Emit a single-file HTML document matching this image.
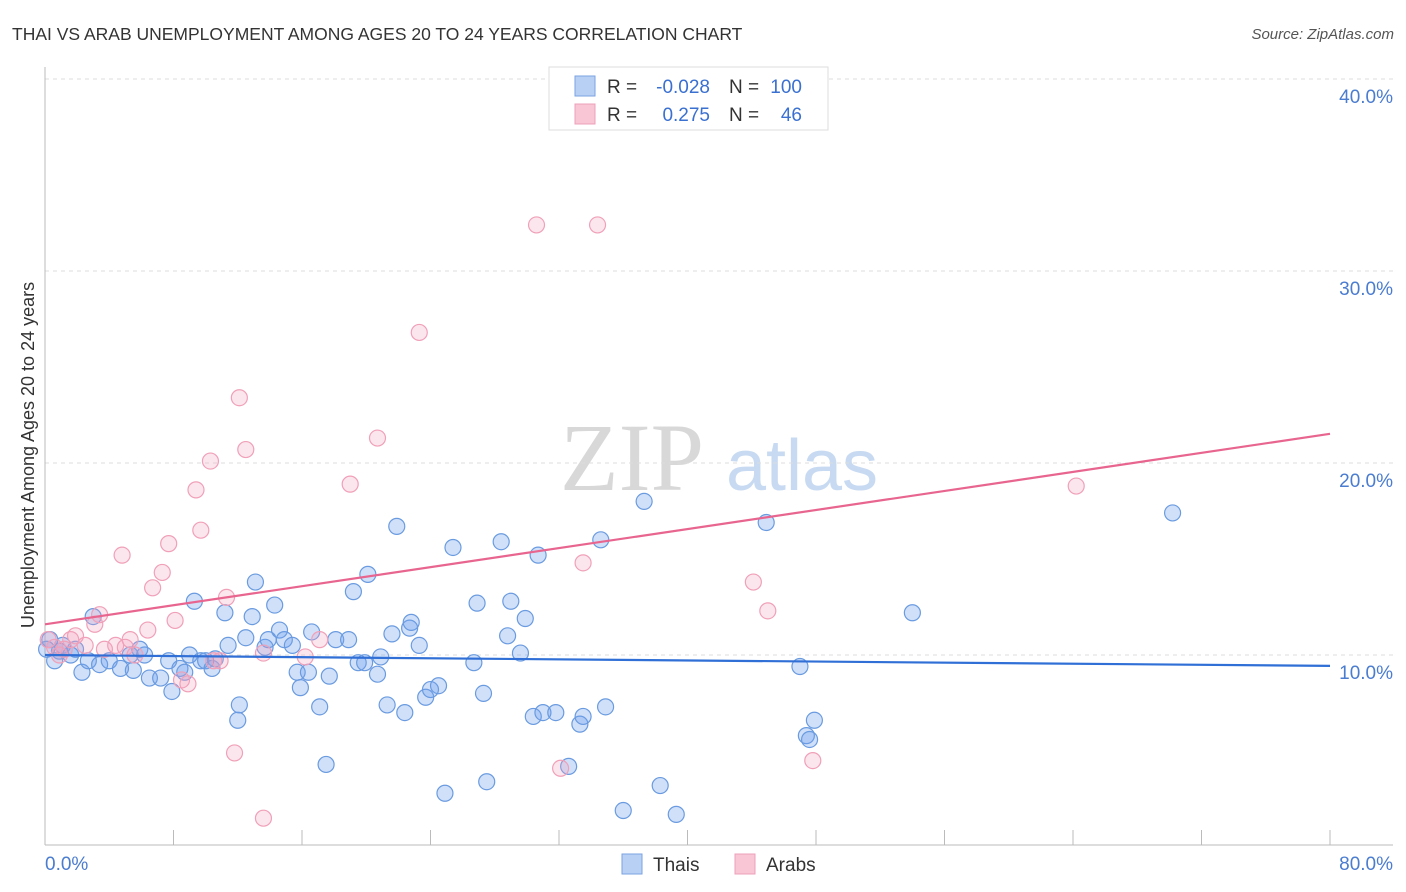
<!DOCTYPE html>
<html><head><meta charset="utf-8"><style>
body{margin:0;background:#fff;font-family:"Liberation Sans",sans-serif;}
svg{display:block}
</style></head><body>
<svg width="1406" height="892" xmlns="http://www.w3.org/2000/svg" id="chart">
<text x="12" y="40" font-size="17.5" fill="#333">THAI VS ARAB UNEMPLOYMENT AMONG AGES 20 TO 24 YEARS CORRELATION CHART</text>
<text x="1394" y="39" font-size="15" fill="#555" font-style="italic" text-anchor="end">Source: ZipAtlas.com</text>
<g>
<text x="632" y="490" font-size="96" font-family="Liberation Serif,serif" fill="#d8d8d8" text-anchor="middle">ZIP</text>
<text x="802" y="490" font-size="72" fill="#c8daf2" text-anchor="middle">atlas</text>
</g>
<g id="grid"></g>
<g id="axes"></g>
<g id="pts"></g>
<g id="lines"></g>
<text transform="translate(34,455) rotate(-90)" font-size="18" fill="#333" text-anchor="middle">Unemployment Among Ages 20 to 24 years</text>
<text x="45" y="870" font-size="19" fill="#4a7cd0">0.0%</text>
<text x="1393" y="870" font-size="19" fill="#4a7cd0" text-anchor="end">80.0%</text>
<g>
<rect x="549" y="67" width="279" height="63" fill="#fff" stroke="#ddd"/>
<rect x="575" y="76" width="20" height="20" fill="#b8d0f4" stroke="#7aa3e0"/>
<rect x="575" y="104" width="20" height="20" fill="#f9c6d6" stroke="#eda0b8"/>
<text x="607" y="93" font-size="19" fill="#333">R =</text>
<text x="710" y="93" font-size="19" fill="#3a70d0" text-anchor="end">-0.028</text>
<text x="729" y="93" font-size="19" fill="#333">N =</text>
<text x="802" y="93" font-size="19" fill="#3a70d0" text-anchor="end">100</text>
<text x="607" y="121" font-size="19" fill="#333">R =</text>
<text x="710" y="121" font-size="19" fill="#3a70d0" text-anchor="end">0.275</text>
<text x="729" y="121" font-size="19" fill="#333">N =</text>
<text x="802" y="121" font-size="19" fill="#3a70d0" text-anchor="end">46</text>
</g>
<g><rect x="622" y="854" width="20" height="20" fill="#b8d0f4" stroke="#7aa3e0"/><text x="653" y="871" font-size="19" fill="#333">Thais</text></g>
<g><rect x="735" y="854" width="20" height="20" fill="#f9c6d6" stroke="#eda0b8"/><text x="766" y="871" font-size="19" fill="#333">Arabs</text></g>
</svg>
<script>
const thaiX=[3.0,2.3,0.9,1.6,2.7,3.4,4.0,4.7,5.3,5.5,6.2,6.5,7.2,7.7,7.9,8.4,8.7,9.3,9.0,9.7,10.0,10.4,10.6,11.2,11.4,12.0,12.1,12.5,12.9,13.1,13.7,13.9,14.3,14.6,14.9,15.4,15.7,15.9,16.4,16.6,17.1,17.5,17.7,18.1,18.9,19.2,19.5,19.9,20.1,20.7,20.9,21.3,21.6,21.9,22.4,22.7,22.8,23.3,23.7,24.0,24.5,24.9,25.4,26.7,26.9,27.3,27.5,28.4,28.8,29.0,29.6,29.9,30.4,30.7,31.0,31.8,32.6,33.3,33.5,34.6,34.9,36.0,37.3,38.3,39.3,44.9,47.0,47.4,47.6,47.9,54.0,70.2,0.3,0.6,1.1,1.9,5.9,0.1];
const thaiY=[12.0,9.1,10.2,10.0,9.7,9.5,9.7,9.3,10.0,9.2,10.0,8.8,8.8,9.7,8.1,9.3,9.1,12.8,10.0,9.7,9.7,9.3,9.8,12.2,10.5,6.6,7.4,10.9,12.0,13.8,10.4,10.8,12.6,11.3,10.8,10.5,9.1,8.3,9.1,11.2,7.3,4.3,8.9,10.8,10.8,13.3,9.6,9.6,14.2,9.0,9.9,7.4,11.1,16.7,7.0,11.4,11.7,10.5,7.8,8.2,8.4,2.8,15.6,9.6,12.7,8.0,3.4,15.9,11.0,12.8,10.1,11.9,6.8,15.2,7.0,7.0,4.2,6.4,6.8,16.0,7.3,1.9,18.0,3.2,1.7,16.9,9.4,5.8,5.6,6.6,12.2,17.4,10.8,9.7,10.5,10.3,10.3,10.3];
const arabX=[0.6,0.9,1.6,1.9,2.5,3.1,3.7,4.4,5.0,5.6,6.4,6.7,7.3,7.7,8.1,8.5,8.9,9.4,9.7,10.3,10.5,10.9,11.3,11.8,12.1,12.5,13.6,13.6,16.2,17.1,19.0,20.7,23.3,30.6,32.1,33.5,34.4,44.1,45.0,47.8,64.2,4.8,3.4,5.3,1.2,0.2];
const arabY=[10.4,10.0,10.8,11.0,10.5,11.6,10.3,10.5,10.4,10.0,11.3,13.5,14.3,15.8,11.8,8.7,8.5,18.6,16.5,20.1,9.7,9.7,13.0,4.9,23.4,20.7,10.1,1.5,9.9,10.8,18.9,21.3,26.8,32.4,4.1,14.8,32.4,13.8,12.3,4.5,18.8,15.2,12.1,10.8,10.3,10.8];
const thaiTrend=[10.0,-0.0071];
const arabTrend=[11.6,0.124];
const yTicks=[10,20,30,40];
const xTickVals=[0,8,16,24,32,40,48,56,64,72,80];
const X0=45,X1=1330,Y0=847,PX_PER_PCT=19.2;
const sx=v=>X0+v/80*(X1-X0), sy=v=>Y0-v*PX_PER_PCT;
const NS="http://www.w3.org/2000/svg";
function mk(tag,attrs,parent){const e=document.createElementNS(NS,tag);for(const k in attrs)e.setAttribute(k,attrs[k]);parent.appendChild(e);return e;}
const grid=document.getElementById('grid'),axes=document.getElementById('axes'),pts=document.getElementById('pts'),lines=document.getElementById('lines'),svg=document.getElementById('chart');
yTicks.forEach(t=>{
 const l=mk('line',{x1:X0,x2:1393,y1:sy(t),y2:sy(t),stroke:'#ddd','stroke-dasharray':'4,4'},grid);
 
 
 const tx=mk('text',{x:1393,y:sy(t)+24,'font-size':19,fill:'#4a7cd0','text-anchor':'end'},svg);
 tx.textContent=t.toFixed(1)+'%';
 
 
});
mk('line',{x1:X0,x2:X0,y1:67,y2:845,stroke:'#bbb'},axes);
mk('line',{x1:X0,x2:1393,y1:845,y2:845,stroke:'#bbb'},axes);
xTickVals.forEach(t=>{
 const l=mk('line',{x1:sx(t),x2:sx(t),y1:830,y2:845,stroke:'#bbb'},axes);
 
 
});
function series(xs,ys,fill,stroke,name){
 xs.forEach((x,i)=>{
  const c=mk('circle',{cx:sx(x),cy:sy(ys[i]),r:8,fill:fill,stroke:stroke,'stroke-width':1.2},pts);
  
  
 });
}
series(thaiX,thaiY,'rgba(110,160,235,0.32)','#6a9be0','thai');
series(arabX,arabY,'rgba(245,160,190,0.26)','#f0a0b8','arab');
const l1=mk('line',{x1:sx(0),y1:sy(thaiTrend[0]),x2:sx(80),y2:sy(thaiTrend[0]+80*thaiTrend[1]),stroke:'#2f6fd6','stroke-width':2.2},lines);


const l2=mk('line',{x1:sx(0),y1:sy(arabTrend[0]),x2:sx(80),y2:sy(arabTrend[0]+80*arabTrend[1]),stroke:'#e8658f','stroke-width':2.2},lines);


</script>
</body></html>
